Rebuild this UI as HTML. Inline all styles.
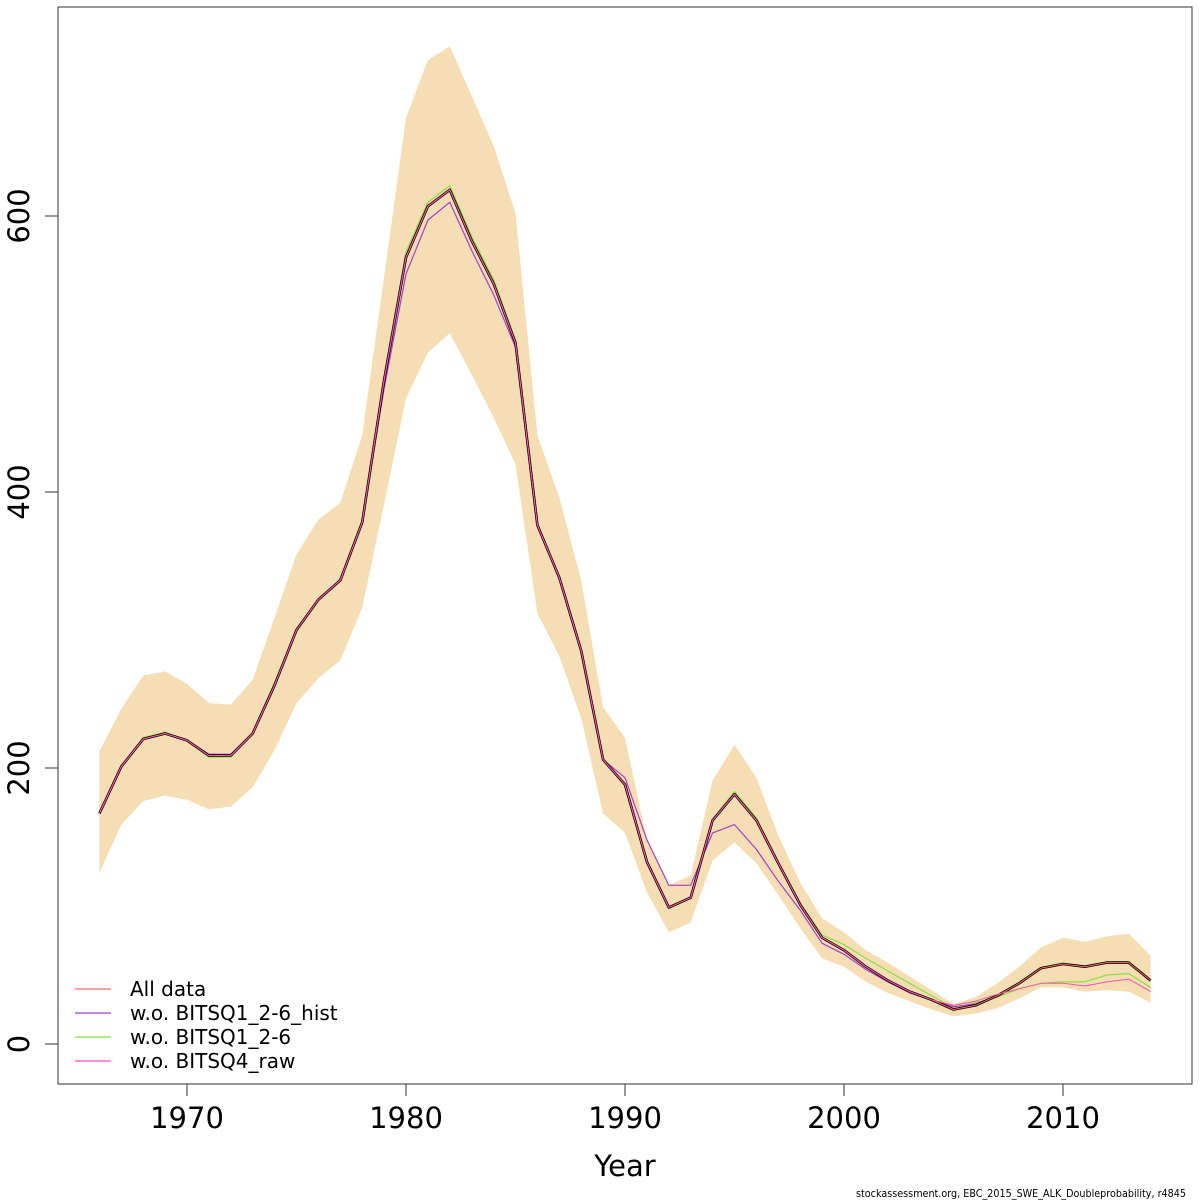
<!DOCTYPE html>
<html><head><meta charset="utf-8"><style>
html,body{margin:0;padding:0;background:#fff;}
svg{display:block;font-family:"DejaVu Sans","Liberation Sans",sans-serif;}
</style></head><body>
<svg id="chart" width="1200" height="1200" viewBox="0 0 1200 1200" xmlns="http://www.w3.org/2000/svg">
<rect x="0" y="0" width="1200" height="1200" fill="#fff"/>
<g id="band"></g>
<g id="lines"></g>
<rect x="58" y="7" width="1134" height="1077" fill="none" stroke="#333" stroke-width="1"/>
<g id="xaxis"></g>
<g id="yaxis"></g>
<text x="625" y="1176" font-size="29" text-anchor="middle">Year</text>
<text x="1186" y="1197" font-size="11" text-anchor="end" textLength="330" lengthAdjust="spacingAndGlyphs">stockassessment.org, EBC_2015_SWE_ALK_Doubleprobability, r4845</text>
<g>
 <line x1="75" y1="989" x2="111" y2="989" stroke="#ff6666" stroke-width="1.2"/>
 <text x="130" y="996" font-size="20">All data</text>
 <line x1="75" y1="1013" x2="111" y2="1013" stroke="#a040d0" stroke-width="1.2"/>
 <text x="130" y="1020" font-size="20">w.o. BITSQ1_2-6_hist</text>
 <line x1="75" y1="1037" x2="111" y2="1037" stroke="#88e040" stroke-width="1.2"/>
 <text x="130" y="1044" font-size="20">w.o. BITSQ1_2-6</text>
 <line x1="75" y1="1061" x2="111" y2="1061" stroke="#ff50b0" stroke-width="1.2"/>
 <text x="130" y="1068" font-size="20">w.o. BITSQ4_raw</text>
</g>
</svg>
<script>
const years = [];
for (let y = 1966; y <= 2014; y++) years.push(y);
const mainSeries = [167,201,221,225,220,209,209,225,260,300,322,336,378,481,570,607,619,582,551,508,376,338,285,206,188,132,99,106,162,181,162,131,101,77,68,56,46,38,32,25,28,35,44,55,58,56,59,59,46];
const upperBand = [212,243,267,270,261,247,246,264,309,355,380,392,441,556,671,713,723,687,651,602,441,396,336,244,222,148,115,122,191,217,193,151,117,91,81,68,59,49,39,29,34,44,56,70,77,74,78,80,64];
const lowerBand = [124,159,176,180,177,170,172,186,213,247,265,278,316,391,468,501,515,485,454,420,312,281,236,167,153,110,81,88,133,146,131,108,84,62,56,45,37,31,25,20,22,26,33,41,41,38,39,38,30];
const allData = [167,201,221,225,220,209,209,225,260,300,322,336,378,481,570,607,619,582,551,508,376,338,285,206,188,132,99,106,162,181,162,131,101,77,68,56,46,38,32,25,28,35,44,55,58,56,59,59,46];
const woHist = [167,201,221,225,220,210,210,225,260,300,322,336,378,475,558,597,610,575,543,505,376,338,285,206,193,148,115,115,153,159,141,118,97,73,65,54,45,37,32,27,29,35,44,55,58,56,59,59,46];
const woQ1 = [167,201,222,226,220,208,208,226,262,301,322,337,380,484,574,610,622,585,554,510,376,338,285,207,188,132,98,106,163,183,164,132,102,79,72,62,53,44,35,26,30,34,40,44,45,45,50,51,41];
const woQ4 = [167,201,221,225,220,209,209,225,260,300,322,336,378,481,570,607,619,582,551,508,376,338,285,206,188,132,99,106,162,181,162,131,101,77,68,56,46,38,32,28,31,36,40,44,44,42,45,47,38];
const xTicks = [1970,1980,1990,2000,2010];
const yTicks = [0,200,400,600];

const X = yr => 187 + (yr - 1970) * 21.9;
const Y = v => 1044 - v * 1.38;
const NS = 'http://www.w3.org/2000/svg';

const band = document.getElementById('band');
let d = 'M' + years.map((yr,i)=>X(yr).toFixed(1)+','+Y(upperBand[i]).toFixed(1)).join(' L');
for (let i = years.length-1; i >= 0; i--) d += ' L' + X(years[i]).toFixed(1)+','+Y(lowerBand[i]).toFixed(1);
d += ' Z';
const bp = document.createElementNS(NS,'path');
bp.setAttribute('d', d);
bp.setAttribute('fill', '#f5deb3');


band.appendChild(bp);

const lines = document.getElementById('lines');
function drawLine(vals, color, w, name) {
  const p = document.createElementNS(NS,'polyline');
  p.setAttribute('points', years.map((yr,i)=>X(yr).toFixed(1)+','+Y(vals[i]).toFixed(1)).join(' '));
  p.setAttribute('fill','none');
  p.setAttribute('stroke',color);
  p.setAttribute('stroke-width',w);
  p.setAttribute('stroke-linejoin','round');
  
  
  lines.appendChild(p);
}
drawLine(woQ1, '#88e040', 1.2, 'line-wo-bitsq1');
drawLine(woHist, '#a040d0', 1.2, 'line-wo-bitsq1-hist');
drawLine(mainSeries, '#000000', 2.6, 'line-main-estimate');
drawLine(allData, '#ff6666', 1, 'line-all-data');
drawLine(woQ4, '#ff50b0', 1, 'line-wo-bitsq4');

const xa = document.getElementById('xaxis');
xTicks.forEach(t => {
  const l = document.createElementNS(NS,'line');
  l.setAttribute('x1',X(t)); l.setAttribute('x2',X(t));
  l.setAttribute('y1',1084); l.setAttribute('y2',1096);
  l.setAttribute('stroke','#333');
  
  
  xa.appendChild(l);
  const tx = document.createElementNS(NS,'text');
  tx.setAttribute('x',X(t)); tx.setAttribute('y',1128);
  tx.setAttribute('font-size','29'); tx.setAttribute('text-anchor','middle');
  
  
  tx.textContent = t;
  xa.appendChild(tx);
});
const ya = document.getElementById('yaxis');
yTicks.forEach(t => {
  const l = document.createElementNS(NS,'line');
  l.setAttribute('x1',45); l.setAttribute('x2',58);
  l.setAttribute('y1',Y(t)); l.setAttribute('y2',Y(t));
  l.setAttribute('stroke','#333');
  
  
  ya.appendChild(l);
  const tx = document.createElementNS(NS,'text');
  tx.setAttribute('transform','translate(29,'+Y(t)+') rotate(-90)');
  tx.setAttribute('font-size','29'); tx.setAttribute('text-anchor','middle');
  
  
  tx.textContent = t;
  ya.appendChild(tx);
});
</script>
</body></html>
